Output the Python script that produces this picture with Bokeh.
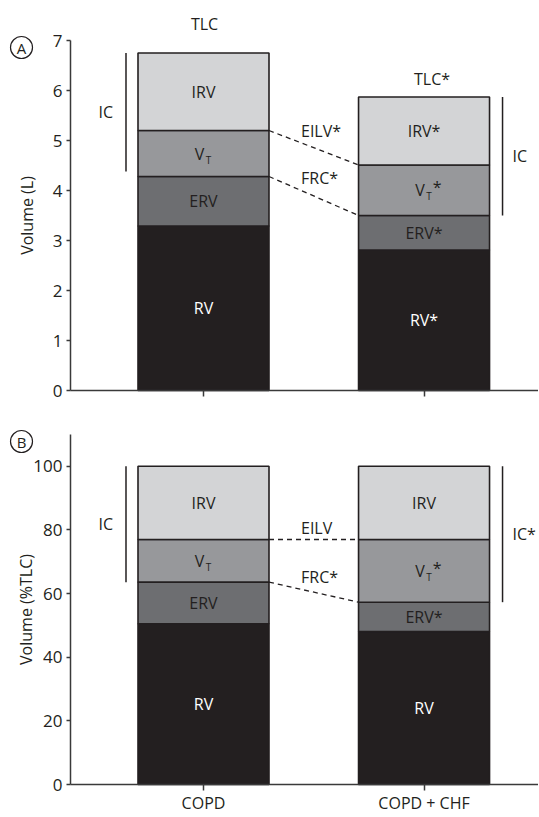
import numpy as np
from bokeh.plotting import figure
from bokeh.models import Range1d, FixedTicker, ColumnDataSource
from bokeh.layouts import column
from bokeh.embed import file_html
from bokeh.resources import INLINE
from bokeh.core.properties import value

# ---------------- data ----------------
groups = ["COPD", "COPD + CHF"]
components = ["RV", "ERV", "VT", "IRV"]

# Panel A: absolute volumes (L)
rv_A = [3.29, 2.81]
erv_A = [0.99, 0.69]
vt_A = [0.92, 1.01]
irv_A = [1.55, 1.36]
ic_bottom_A = [4.38, 3.50]
labels_A = [["RV", "ERV", "V", "IRV"], ["RV*", "ERV*", "V", "IRV*"]]
vt_star_A = [False, True]
tlc_labels_A = ["TLC", "TLC*"]
connector_labels_A = ["EILV*", "FRC*"]
ic_labels_A = ["IC", "IC"]
yticks_A = [0, 1, 2, 3, 4, 5, 6, 7]

# Panel B: volumes as %TLC
rv_B = [50.5, 48.1]
erv_B = [13.1, 9.2]
vt_B = [13.4, 19.7]
irv_B = [23.0, 23.0]
ic_bottom_B = [63.6, 57.3]
labels_B = [["RV", "ERV", "V", "IRV"], ["RV", "ERV*", "V", "IRV"]]
vt_star_B = [False, True]
connector_labels_B = ["EILV", "FRC*"]
ic_labels_B = ["IC", "IC*"]
yticks_B = [0, 20, 40, 60, 80, 100]

# ---------------- style / layout ----------------
FONT = "Open Sans"
FS = "16px"
TICK_FS = "17px"
INK = "#231f20"
AXIS_INK = "#3a3a3a"
COLORS = ["#231f20", "#6d6e71", "#97989b", "#d3d4d6"]
TEXT_COLORS = ["white", INK, INK, INK]

W = 538
BAR_W = 0.594
PPU_X = 220.5            # pixels per category step
X_AXIS = -0.603          # where the y axis sits
X_START = X_AXIS - 70 / PPU_X
X_END = 1.519


def dx(px):
    return px / PPU_X


def make_panel(rv, erv, vt, irv, ic_bottom, seg_labels, vt_star, conn_labels,
               ic_labels, yticks, y_axis_max, ylabel, letter, tlc_labels,
               space_above_px, axis_px, space_below_px, show_xlabels,
               ylabel_standoff, tlc_offsets_px=None):
    ppu_y = axis_px / y_axis_max

    def dy(px):
        return px / ppu_y

    y_top = y_axis_max + dy(space_above_px)
    y_bot = -dy(space_below_px)
    height = space_above_px + axis_px + space_below_px
    p = figure(width=W, height=height, output_backend="svg",
               toolbar_location=None,
               x_range=Range1d(X_START, X_END), y_range=Range1d(y_bot, y_top),
               min_border_left=0, min_border_right=0,
               min_border_top=0, min_border_bottom=0)
    p.outline_line_color = None
    p.grid.visible = False
    p.background_fill_color = "white"
    p.border_fill_color = "white"

    xs = np.array([0.0, 1.0])
    parts = [np.array(rv), np.array(erv), np.array(vt), np.array(irv)]
    tops = np.cumsum(parts, axis=0)
    bottoms = tops - np.array(parts)

    for k in range(4):
        src = ColumnDataSource(dict(x=xs, bottom=bottoms[k], top=tops[k]))
        p.vbar(x="x", width=BAR_W, bottom="bottom", top="top", source=src,
               fill_color=COLORS[k], line_color=INK, line_width=1.6)

    def txt(x, y, t, align="center", size=FS, color=INK, xo=0, yo=0):
        p.text(x=x, y=y, text=t, text_align=align, text_baseline="middle",
               text_font=value(FONT), text_font_size=size, text_color=color,
               x_offset=xo, y_offset=yo)

    # segment labels
    for k in range(4):
        mids = (bottoms[k] + tops[k]) / 2
        if k == 2:
            txt(xs, mids, ["V", "V"], color=TEXT_COLORS[k], xo=-4)
            txt(xs, mids, ["T", "T"], size="10px", color=TEXT_COLORS[k], xo=5, yo=6)
            for g in range(2):
                if vt_star[g]:
                    txt([xs[g]], [mids[g]], ["*"], color=TEXT_COLORS[k], xo=13, yo=-3)
        else:
            txt(xs, mids, [seg_labels[g][k] for g in range(2)], color=TEXT_COLORS[k])

    # dashed connectors (EILV = top of VT, FRC = top of ERV)
    x0 = xs[0] + BAR_W / 2
    x1 = xs[1] - BAR_W / 2
    conn_y0 = [tops[2][0], tops[1][0]]
    conn_y1 = [tops[2][1], tops[1][1]]
    p.segment(x0=[x0, x0], y0=conn_y0, x1=[x1, x1], y1=conn_y1,
              line_color=INK, line_width=1.3, line_dash="5 4")
    frac = dx(32) / (x1 - x0)
    lab_y = [conn_y0[i] + frac * (conn_y1[i] - conn_y0[i]) + dy(12) for i in range(2)]
    txt([x0 + dx(32)] * 2, lab_y, conn_labels, align="left")

    # IC brackets
    ic_xl = xs[0] - BAR_W / 2 - dx(12)
    ic_xr = xs[1] + BAR_W / 2 + dx(13)
    tlc = tops[3]
    p.segment(x0=[ic_xl, ic_xr], y0=[ic_bottom[0], ic_bottom[1]],
              x1=[ic_xl, ic_xr], y1=[tlc[0], tlc[1]], line_color=INK, line_width=1.5)
    txt([ic_xl - dx(13)], [(ic_bottom[0] + tlc[0]) / 2], [ic_labels[0]], align="right")
    txt([ic_xr + dx(10)], [(ic_bottom[1] + tlc[1]) / 2], [ic_labels[1]], align="left")

    # TLC labels above bars
    if tlc_labels:
        for g in range(2):
            ox, oy = tlc_offsets_px[g]
            txt([xs[g] + dx(ox)], [tlc[g] + dy(oy)], [tlc_labels[g]])

    # circled panel letter
    cx = X_AXIS + dx(-49)
    cy = y_axis_max + dy(-7)
    p.scatter(x=[cx], y=[cy], marker="circle", size=22, fill_color=None,
              line_color=INK, line_width=1.2)
    txt([cx], [cy], [letter], size="15px")

    # axes
    yax = p.yaxis[0]
    yax.fixed_location = X_AXIS
    yax.bounds = (0, y_axis_max)
    yax.ticker = FixedTicker(ticks=yticks)
    yax.axis_label = ylabel
    yax.axis_label_text_font = FONT
    yax.axis_label_text_font_size = FS
    yax.axis_label_text_font_style = "normal"
    yax.axis_label_text_color = INK
    yax.axis_label_standoff = ylabel_standoff
    yax.major_label_text_font = FONT
    yax.major_label_text_font_size = TICK_FS
    yax.major_label_text_color = INK
    yax.major_label_standoff = 4
    yax.major_tick_in = 0
    yax.major_tick_out = 4
    yax.minor_tick_out = 0
    yax.minor_tick_in = 0
    yax.axis_line_width = 1.5
    yax.axis_line_color = AXIS_INK
    yax.major_tick_line_width = 1.5
    yax.major_tick_line_color = AXIS_INK

    xax = p.xaxis[0]
    xax.fixed_location = 0
    xax.bounds = (X_AXIS, X_END)
    xax.ticker = FixedTicker(ticks=[0, 1])
    xax.major_label_overrides = {0: groups[0], 1: groups[1]}
    xax.major_label_text_font = FONT
    xax.major_label_text_font_size = FS
    xax.major_label_text_alpha = 1.0 if show_xlabels else 0.0
    xax.major_label_text_color = INK
    xax.major_label_standoff = 1
    xax.major_tick_in = 0
    xax.major_tick_out = 6
    xax.minor_tick_out = 0
    xax.minor_tick_in = 0
    xax.axis_line_width = 1.5
    xax.axis_line_color = AXIS_INK
    xax.major_tick_line_width = 1.5
    xax.major_tick_line_color = AXIS_INK
    return p


pA = make_panel(rv_A, erv_A, vt_A, irv_A, ic_bottom_A, labels_A, vt_star_A,
                connector_labels_A, ic_labels_A, yticks_A, 7, "Volume (L)", "A",
                tlc_labels_A, space_above_px=40, axis_px=350, space_below_px=28,
                show_xlabels=False, ylabel_standoff=12,
                tlc_offsets_px=[(1, 29.5), (8, 18)])
pB = make_panel(rv_B, erv_B, vt_B, irv_B, ic_bottom_B, labels_B, vt_star_B,
                connector_labels_B, ic_labels_B, yticks_B, 110, "Volume (%TLC)", "B",
                None, space_above_px=16, axis_px=350, space_below_px=31,
                show_xlabels=True, ylabel_standoff=-7)

layout = column(pA, pB)
open("out.html", "w").write(file_html(layout, INLINE))
